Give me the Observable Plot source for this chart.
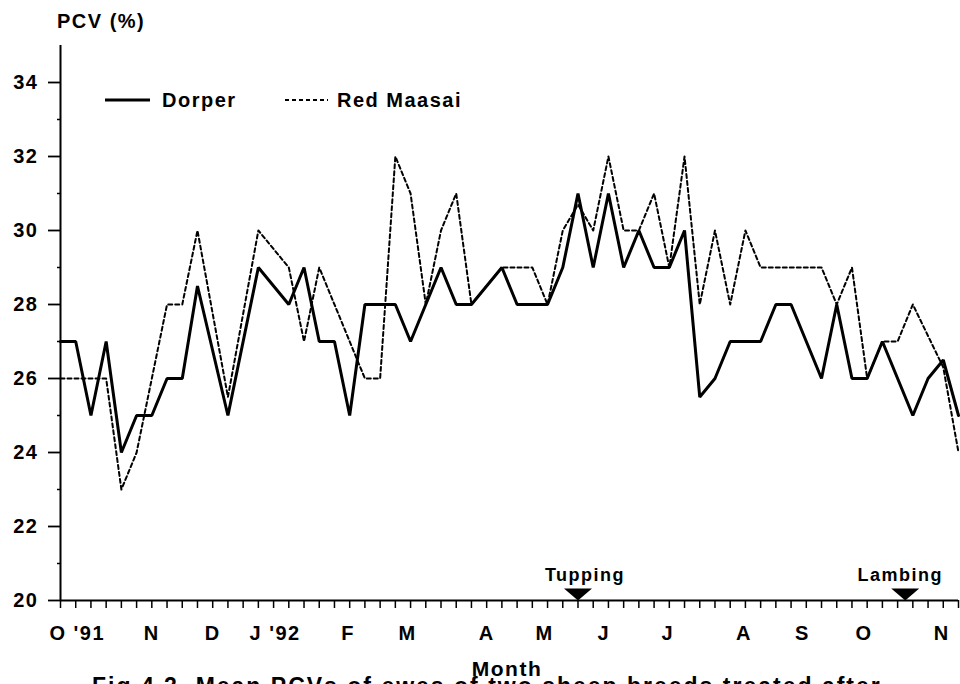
<!DOCTYPE html>
<html><head><meta charset="utf-8">
<script src="https://cdn.jsdelivr.net/npm/d3@7"></script>
<script src="https://cdn.jsdelivr.net/npm/@observablehq/plot@0.6"></script>
<style>
body{margin:0;background:#fff;}
#chart{position:relative;width:960px;height:684px;overflow:hidden;}
svg text{font-family:"Liberation Sans",Arial,sans-serif;font-weight:bold;letter-spacing:1.5px;fill:#000;}
</style></head><body><div id="chart"></div>
<script>
// weekly sample index (0 = start of Oct 1991)
const dorperWeek = [0,1,2,3,4,5,6,7,8,9,11,13,15,16,17,18,19,20,22,23,25,26,27,29,30,32,33,34,35,36,37,38,39,40,41,42,43,44,46,47,48,50,51,52,53,54,56,57,58,59];
const dorperPCV  = [27,27,25,27,24,25,25,26,26,28.5,25,29,28,29,27,27,25,28,28,27,29,28,28,29,28,28,29,31,29,31,29,30,29,29,30,25.5,26,27,27,28,28,26,28,26,26,27,25,26,26.5,25];
const maasaiWeek = [0,3,4,5,7,8,9,11,13,15,16,17,20,21,22,23,24,25,26,27,29,31,32,33,34,35,36,37,38,39,40,41,42,43,44,45,46,50,51,52,53,54,55,56,58,59];
const maasaiPCV  = [26,26,23,24,28,28,30,25.5,30,29,27,29,26,26,32,31,28,30,31,28,29,29,28,30,30.7,30,32,30,30,31,29,32,28,30,28,30,29,29,28,29,26,27,27,28,26.3,24];
const yTicks = [20,22,24,26,28,30,32,34];
const yMinor = [21,23,25,27,29,31,33];
const weekTicks = d3.range(0,60);
const monthLabels = ["O '91","N","D","J '92","F","M","A","M","J","J","A","S","O","N"];
const monthPos = [1.1,6.0,10.0,14.1,18.9,22.8,28.0,31.8,35.7,39.9,44.9,48.75,52.8,57.9];
const eventLabels = ["Tupping","Lambing"];
const eventPos = [34,55.5];
const seriesNames = ["Dorper","Red Maasai"];
const yTitle = "PCV (%)";
const xTitle = "Month";
const caption = "Fig.4.2. Mean PCVs of ewes of two sheep breeds treated after";

const dorper = dorperWeek.map((w,i)=>({w, v:dorperPCV[i]}));
const maasai = maasaiWeek.map((w,i)=>({w, v:maasaiPCV[i]}));
const events = eventLabels.map((t,i)=>({t, x:eventPos[i]}));
const months = monthLabels.map((t,i)=>({t, x:monthPos[i]}));

const downTri = {draw(ctx){ ctx.moveTo(-14,-6); ctx.lineTo(14,-6); ctx.lineTo(0,6); ctx.closePath(); }};

const plot = Plot.plot({
  width:960, height:684,
  marginLeft:60, marginRight:2, marginTop:45, marginBottom:84,
  x:{domain:[0,59], axis:null},
  y:{domain:[20,35], axis:null},
  style:{background:"white", color:"black"},
  marks:[
    Plot.axisY({ticks:yMinor, tickSize:3, tickFormat:()=>"", label:null, strokeWidth:1.5}),
    Plot.axisY({ticks:yTicks, tickSize:12, tickPadding:10, label:null, fontSize:20, fontWeight:"bold", strokeWidth:1.8}),
    Plot.axisX({ticks:weekTicks, tickSize:8, tickFormat:()=>"", label:null, strokeWidth:1.5}),
    Plot.ruleX([0], {y1:20, y2:35, strokeWidth:2}),
    Plot.ruleY([20], {x1:0, x2:59, strokeWidth:2}),
    Plot.text(months, {x:"x", y:20, text:"t", dy:33, fontSize:20, fontWeight:"bold"}),
    Plot.line(maasai, {x:"w", y:"v", stroke:"black", strokeWidth:2, strokeDasharray:"4,3"}),
    Plot.line(dorper, {x:"w", y:"v", stroke:"black", strokeWidth:3, strokeLinejoin:"miter"}),
    Plot.dot(events, {x:"x", y:20, symbol:downTri, fill:"black", stroke:null, dy:-6}),
    Plot.text(events.slice(0,1), {x:"x", y:20, text:"t", dy:-25, dx:7, fontSize:18, fontWeight:"bold"}),
    Plot.text(events.slice(1), {x:"x", y:20, text:"t", dy:-25, dx:-5, fontSize:18, fontWeight:"bold"})
  ]
});
document.getElementById("chart").appendChild(plot);

const svg = d3.select(plot);
const addText = (x,y,size,txt,anchor="start") =>
  svg.append("text").attr("x",x).attr("y",y).attr("font-size",size).attr("text-anchor",anchor).text(txt);
addText(57,28,20,yTitle);
svg.append("line").attr("x1",105).attr("x2",150).attr("y1",100).attr("y2",100)
  .attr("stroke","black").attr("stroke-width",3);
addText(162,107,20,seriesNames[0]);
svg.append("line").attr("x1",285).attr("x2",328).attr("y1",100).attr("y2",100)
  .attr("stroke","black").attr("stroke-width",2).attr("stroke-dasharray","4,3");
addText(337,107,20,seriesNames[1]);
addText(507,676,21,xTitle,"middle");
addText(92,694,23,caption).style("letter-spacing","2px");
</script>
</body></html>
